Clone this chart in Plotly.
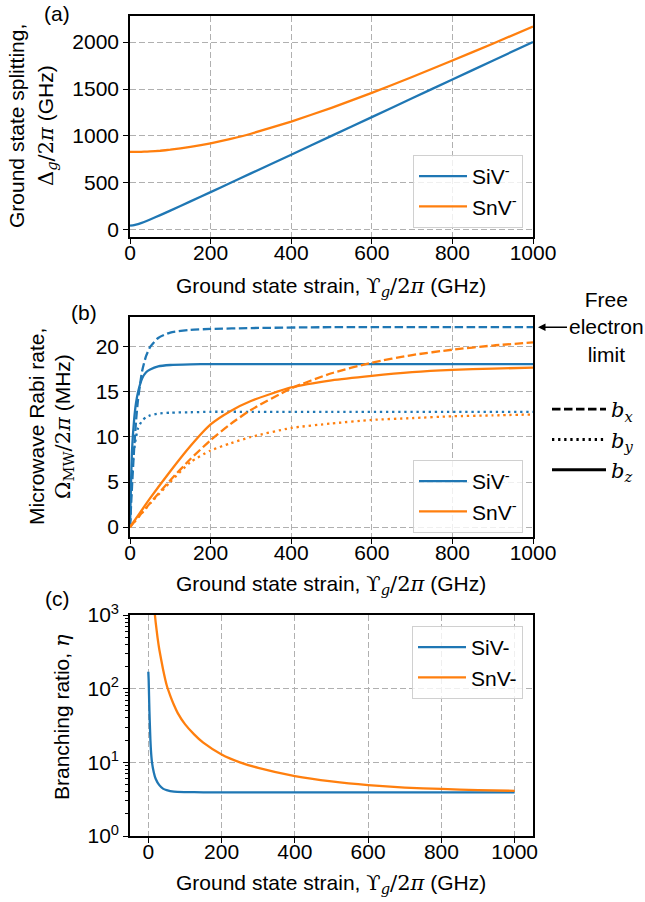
import plotly.graph_objects as go

# ---------------- data ----------------
# (a) ground-state splitting vs strain (GHz)
strain_a = [0, 10, 20, 35, 50, 75, 100, 150, 200, 250, 300, 400, 500, 600, 700, 800, 900, 1000]
split_siv = [45, 52, 63, 85, 111, 158, 206, 304, 403, 502, 602, 801, 1001, 1201, 1401, 1601, 1801, 2001]
split_snv = [830, 830, 831, 833, 836, 843, 854, 883, 921, 969, 1024, 1153, 1300, 1459, 1628, 1803, 1982, 2165]

# (b) microwave Rabi rate (MHz)
strain_b_siv = [0, 5, 10, 15, 20, 30, 40, 50, 70, 100, 150, 200, 300, 500, 1000]
rabi_siv_bx = [0, 4.5, 8.5, 11.8, 14.2, 17.3, 19.0, 20.0, 21.0, 21.6, 21.9, 22.0, 22.1, 22.2, 22.2]
rabi_siv_by = [0, 6.0, 8.5, 10.0, 11.0, 11.8, 12.2, 12.4, 12.6, 12.7, 12.75, 12.8, 12.8, 12.8, 12.8]
rabi_siv_bz = [0, 8.5, 11.8, 13.8, 15.0, 16.5, 17.2, 17.5, 17.85, 18.0, 18.07, 18.1, 18.1, 18.1, 18.1]

strain_b_snv = [0, 25, 50, 100, 150, 200, 250, 300, 400, 500, 600, 700, 800, 900, 1000]
rabi_snv_bx = [0, 1.33, 2.66, 5.2, 7.55, 9.64, 11.46, 13.0, 15.4, 17.08, 18.26, 19.1, 19.7, 20.16, 20.5]
rabi_snv_by = [0, 1.3, 2.6, 5.0, 7.2, 8.5, 9.3, 10.0, 11.0, 11.5, 11.9, 12.1, 12.3, 12.4, 12.5]
rabi_snv_bz = [0, 1.6, 3.2, 6.2, 9.0, 11.4, 12.9, 14.0, 15.5, 16.3, 16.8, 17.2, 17.45, 17.6, 17.7]

# (c) branching ratio
strain_c_siv = [0, 1, 2, 3, 5, 7, 10, 15, 20, 30, 40, 50, 70, 100, 150, 200, 400, 600, 800, 1000]
eta_siv = [170, 130, 80, 50, 25, 15, 10, 7.3, 6.0, 4.9, 4.4, 4.2, 4.0, 3.95, 3.92, 3.9, 3.9, 3.9, 3.9, 3.9]
strain_c_snv = [18, 20, 25, 30, 40, 50, 60, 70, 80, 100, 125, 150, 200, 250, 300, 400, 500, 600, 700, 800, 900, 1000]
eta_snv = [1000, 800, 500, 340, 185, 112, 80, 60, 47, 33, 24, 18.5, 12.8, 10.0, 8.4, 6.5, 5.5, 4.9, 4.55, 4.35, 4.2, 4.1]

x_ticks = [0, 200, 400, 600, 800, 1000]
log_ticks = [1, 10, 100, 1000]
log_ticktext = ["10<sup>0</sup>", "10<sup>1</sup>", "10<sup>2</sup>", "10<sup>3</sup>"]

BLUE = "#1f77b4"
ORANGE = "#ff7f0e"
FONT = "Liberation Sans"
MATH = "DejaVu Serif"
FS = 21
LW = 2.3
DASH = "8.5px,3.5px"
DOT = "2.3px,3.8px"

W, H = 645, 902
def px(x):
    return x / W
def py(y):
    return 1 - y / H

fig = go.Figure()

# (a)
fig.add_trace(go.Scatter(x=strain_a, y=split_siv, mode="lines", line=dict(color=BLUE, width=LW, shape="spline", smoothing=0.4),
                         name="SiV<sup>-</sup>", xaxis="x", yaxis="y", legend="legend"))
fig.add_trace(go.Scatter(x=strain_a, y=split_snv, mode="lines", line=dict(color=ORANGE, width=LW, shape="spline", smoothing=0.4),
                         name="SnV<sup>-</sup>", xaxis="x", yaxis="y", legend="legend"))

# (b)
for xs, ys, col, dash in [
    (strain_b_siv, rabi_siv_bx, BLUE, DASH),
    (strain_b_siv, rabi_siv_by, BLUE, DOT),
    (strain_b_siv, rabi_siv_bz, BLUE, "solid"),
    (strain_b_snv, rabi_snv_bx, ORANGE, DASH),
    (strain_b_snv, rabi_snv_by, ORANGE, DOT),
    (strain_b_snv, rabi_snv_bz, ORANGE, "solid"),
]:
    fig.add_trace(go.Scatter(x=xs, y=ys, mode="lines", line=dict(color=col, width=LW, dash=dash, shape="spline", smoothing=0.6),
                             showlegend=False, xaxis="x2", yaxis="y2"))
fig.add_trace(go.Scatter(x=[None], y=[None], mode="lines", line=dict(color=BLUE, width=LW),
                         name="SiV<sup>-</sup>", xaxis="x2", yaxis="y2", legend="legend2"))
fig.add_trace(go.Scatter(x=[None], y=[None], mode="lines", line=dict(color=ORANGE, width=LW),
                         name="SnV<sup>-</sup>", xaxis="x2", yaxis="y2", legend="legend2"))
# line-style key
for nm, dash, grp in [("<i>b</i><sub><i>x</i></sub>", DASH, "g1"),
                      ("<i>b</i><sub><i>y</i></sub>", DOT, "g2"),
                      ("<i>b</i><sub><i>z</i></sub>", "solid", "g3")]:
    fig.add_trace(go.Scatter(x=[None], y=[None], mode="lines", line=dict(color="black", width=LW + 0.6, dash=dash),
                             name=nm, legendgroup=grp, xaxis="x2", yaxis="y2", legend="legend4"))

# (c)
fig.add_trace(go.Scatter(x=strain_c_siv, y=eta_siv, mode="lines", line=dict(color=BLUE, width=LW, shape="spline", smoothing=0.5),
                         name="SiV-", xaxis="x3", yaxis="y3", legend="legend3"))
fig.add_trace(go.Scatter(x=strain_c_snv, y=eta_snv, mode="lines", line=dict(color=ORANGE, width=LW, shape="spline", smoothing=0.5),
                         name="SnV-", xaxis="x3", yaxis="y3", legend="legend3"))

axis_common = dict(
    showline=True, linecolor="black", linewidth=1.6, mirror=True, automargin=False,
    ticks="outside", ticklen=5, tickwidth=1.3, tickcolor="black",
    showgrid=True, gridcolor="#b0b0b0", gridwidth=1.1, griddash="6px,3px",
    zeroline=False, tickfont=dict(family=FONT, size=FS, color="black"),
)
xaxis_common = dict(axis_common, ticklabelposition="outside", ticklabelstandoff=-9)
xdom = [px(130), px(533)]

legend_common = dict(
    font=dict(family=FONT, size=FS, color="black"),
    bgcolor="rgba(255,255,255,0.8)", bordercolor="#d0d0d0", borderwidth=1,
    itemwidth=48, xanchor="right", yanchor="top", tracegroupgap=0,
)

fig.update_layout(
    width=W, height=H, margin=dict(l=0, r=0, t=0, b=0, autoexpand=False),
    paper_bgcolor="white", plot_bgcolor="white",
    font=dict(family=FONT, size=FS, color="black"),
    xaxis=dict(xaxis_common, domain=xdom, range=[0, 1000], tickvals=x_ticks, anchor="y"),
    yaxis=dict(axis_common, domain=[py(237), py(16)], range=[-75, 2277], tickvals=[0, 500, 1000, 1500, 2000], anchor="x"),
    xaxis2=dict(xaxis_common, domain=xdom, range=[0, 1000], tickvals=x_ticks, anchor="y2"),
    yaxis2=dict(axis_common, domain=[py(537), py(317)], range=[-1.11, 23.33], tickvals=[0, 5, 10, 15, 20], anchor="x2"),
    xaxis3=dict(xaxis_common, domain=xdom, range=[-50, 1050], tickvals=x_ticks, anchor="y3"),
    yaxis3=dict(axis_common, domain=[py(836), py(615)], type="log", range=[0, 3], tickvals=log_ticks,
                ticktext=log_ticktext, anchor="x3",
                minor=dict(ticks="outside", ticklen=3, tickwidth=1, tickcolor="black", showgrid=False,
                           tickvals=[m * 10 ** k for k in range(3) for m in range(2, 10)])),
    legend=dict(legend_common, x=px(523), y=py(155)),
    legend2=dict(legend_common, x=px(523), y=py(460)),
    legend3=dict(legend_common, x=px(523), y=py(626)),
    legend4=dict(font=dict(family=MATH, size=FS, color="black"), bgcolor="rgba(0,0,0,0)", borderwidth=0,
                 itemwidth=54, xanchor="left", yanchor="top", x=px(547), y=py(389), tracegroupgap=0),
)

def ann(text, x, y, angle=0, size=FS, **kw):
    fig.add_annotation(text=text, x=px(x), y=py(y), xref="paper", yref="paper", showarrow=False,
                       textangle=angle, xanchor="center", yanchor="middle",
                       font=dict(family=FONT, size=size, color="black"), **kw)

M = lambda s: '<span style="font-family:%s">%s</span>' % (MATH, s)
xtitle = "Ground state strain, " + M("ϒ<sub><i>g</i></sub>/2<i>π</i>") + " (GHz)"

ann(xtitle, 331, 287)
ann(xtitle, 331, 585)
ann(xtitle, 331, 884)

ann("Ground state splitting,", 17, 126, angle=-90)
ann(M("Δ<sub><i>g</i></sub>/2<i>π</i>") + " (GHz)", 47, 126, angle=-90)
ann("Microwave Rabi rate,", 36, 427, angle=-90)
ann(M("Ω<sub>MW</sub>/2<i>π</i>") + " (MHz)", 64, 427, angle=-90)
ann("Branching ratio, " + M("<i>η</i>"), 62, 717, angle=-90)

ann("(a)", 57, 14)
ann("(b)", 84, 312)
ann("(c)", 57, 598)

# free electron limit arrow
fig.add_annotation(text="Free<br>electron<br>limit", x=px(538), y=22.2, xref="paper", yref="y2",
                   ax=68, ay=0, axref="pixel", ayref="pixel",
                   showarrow=True, arrowhead=2, arrowsize=1, arrowwidth=1.5, arrowcolor="black",
                   font=dict(family=FONT, size=FS, color="black"), align="center")

fig.write_html("out.html")
